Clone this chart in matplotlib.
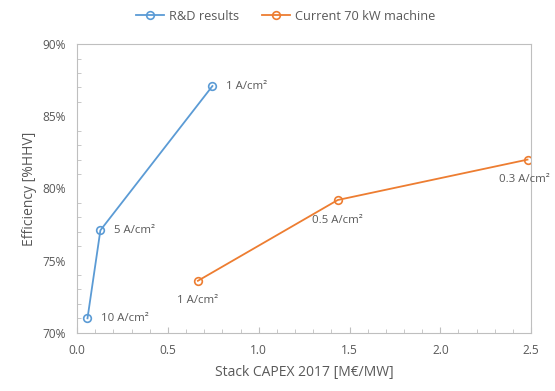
import matplotlib
matplotlib.use("Agg")
import matplotlib.pyplot as plt
from matplotlib.ticker import MultipleLocator, FuncFormatter

rd_x = [0.057, 0.128, 0.745]
rd_y = [71.0, 77.1, 87.1]
rd_labels = ["10 A/cm²", "5 A/cm²", "1 A/cm²"]

cur_x = [0.665, 1.435, 2.48]
cur_y = [73.6, 79.2, 82.0]
cur_labels = ["1 A/cm²", "0.5 A/cm²", "0.3 A/cm²"]

series_names = ["R&D results", "Current 70 kW machine"]

plt.rcParams['font.family'] = ['Open Sans', 'DejaVu Sans']
txt = '#595959'
fig = plt.figure(figsize=(5.55, 3.91), dpi=100)
ax = fig.add_axes([0.139, 0.149, 0.818, 0.738])

blue = '#5B9BD5'
orange = '#ED7D31'
ax.plot(rd_x, rd_y, color=blue, lw=1.3, marker='o', ms=5.5, mfc='none', mew=1.2, label=series_names[0])
ax.plot(cur_x, cur_y, color=orange, lw=1.3, marker='o', ms=5.5, mfc='none', mew=1.2, label=series_names[1])

fs = 8.2
for x, y, s in zip(rd_x, rd_y, rd_labels):
    ax.annotate(s, (x, y), xytext=(10, 0), textcoords='offset points', ha='left', va='center', fontsize=fs, color=txt)
offs = [(0, -14), (0, -14.5), (-2, -14.5)]
for (x, y, s), o in zip(zip(cur_x, cur_y, cur_labels), offs):
    ax.annotate(s, (x, y), xytext=o, textcoords='offset points', ha='center', va='center', fontsize=fs, color=txt)

ax.set_xlim(0, 2.5)
ax.set_ylim(70, 90)
ax.xaxis.set_major_locator(MultipleLocator(0.5))
ax.xaxis.set_minor_locator(MultipleLocator(0.1))
ax.yaxis.set_major_locator(MultipleLocator(5))
ax.yaxis.set_minor_locator(MultipleLocator(1))
ax.xaxis.set_major_formatter(FuncFormatter(lambda v, p: f"{v:.1f}"))
ax.yaxis.set_major_formatter(FuncFormatter(lambda v, p: f"{v:.0f}%"))
ax.tick_params(which='both', direction='in', color='#BFBFBF', labelcolor=txt, labelsize=8.6)
ax.tick_params(which='minor', length=3)
ax.tick_params(axis='y', which='major', length=0, pad=8)
ax.tick_params(axis='x', which='major', length=4, pad=8)
for s in ax.spines.values():
    s.set_color('#BFBFBF')
    s.set_linewidth(0.8)

ax.set_xlabel("Stack CAPEX 2017 [M€/MW]", fontsize=10, color=txt, labelpad=6)
ax.set_ylabel("Efficiency [%HHV]", fontsize=10, color=txt, labelpad=4)

fig.legend(loc='upper center', bbox_to_anchor=(0.515, 1.005), ncol=2, frameon=False,
           fontsize=9.2, labelcolor=txt, handlelength=2.2, columnspacing=1.8, handletextpad=0.4)

fig.savefig("out.png", dpi=100)
